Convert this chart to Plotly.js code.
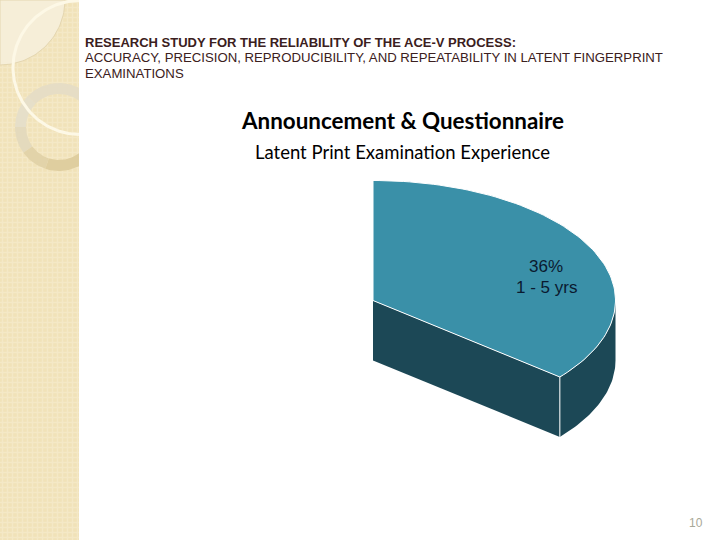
<!DOCTYPE html>
<html><head><meta charset="utf-8">
<script src="https://cdn.plot.ly/plotly-3.0.1.min.js"></script>
<style>html,body{margin:0;padding:0;background:#fff}#c{width:720px;height:540px}</style>
</head><body><div id="c"></div>
<script>
// Data
const sliceShares = [36];
const sliceNames = ["1 - 5 yrs"];
const headingLines = ["RESEARCH STUDY FOR THE RELIABILITY OF THE ACE-V PROCESS:",
  "ACCURACY, PRECISION, REPRODUCIBILITY, AND REPEATABILITY IN LATENT FINGERPRINT", "EXAMINATIONS"];
const chartTitle = "Announcement & Questionnaire";
const chartSubtitle = "Latent Print Examination Experience";
const pageNumber = "10";

// Projection of the tilted pie
const cx = 373, cy = 300.5, rx = 242.5, ry = 120, depth = 60;
const topColor = "#3a90a8", sideColor = "#1c4856";

function seq(a, b, n) { const o = []; for (let i = 0; i <= n; i++) o.push(a + (b - a) * i / n); return o; }
function px(t) { return cx + rx * Math.sin(t); }
function py(t) { return cy - ry * Math.cos(t); }
function poly(x, y, fill, line, extra) {
  return Object.assign({ x, y, type: "scatter", mode: "lines", fill: "toself", fillcolor: fill,
    line: line || { width: 0, color: fill }, hoverinfo: "skip", showlegend: false }, extra || {});
}
const stripRight = 79;
function arc(c0, c1, r, a, b, n) {
  const xs = [], ys = [];
  seq(a, b, n).forEach(t => { xs.push(Math.min(stripRight, c0 + r * Math.cos(t))); ys.push(c1 + r * Math.sin(t)); });
  return [xs, ys];
}

const traces = [];
// Decorated left band
traces.push(poly([0, stripRight, stripRight, 0, 0], [0, 0, 540, 540, 0], "#f2e3ba", null,
  { fillpattern: { shape: "+", fgcolor: "#f4e8c6", bgcolor: "#f1e2b8", size: 5, solidity: 0.5 } }));
// Pale quarter disc
const q = arc(0, 0, 65, 0, Math.PI / 2, 40);
traces.push(poly([0].concat(q[0], [0]), [0].concat(q[1], [0]), "#f6eed8",
  { width: 1, color: "#e4d6b0" }));
// Ring (bands give its soft vertical shading)
const ringC = [59, 127], ringOut = 44, ringIn = 33;
function ring(a, b, fill) {
  const o = arc(ringC[0], ringC[1], ringOut, a, b, 60), i = arc(ringC[0], ringC[1], ringIn, b, a, 60);
  return poly(o[0].concat(i[0], [o[0][0]]), o[1].concat(i[1], [o[1][0]]), fill);
}
traces.push(ring(Math.PI * 1.0, Math.PI * 1.25, "#e6dfc9"));
traces.push(ring(Math.PI * 1.25, Math.PI * 1.75, "#e6ddc5"));
traces.push(ring(Math.PI * 1.75, Math.PI * 2.0, "#e4d7b4"));
traces.push(ring(Math.PI * 0.8, Math.PI * 1.0, "#e4dabd"));
traces.push(ring(Math.PI * 0.6, Math.PI * 0.8, "#e2d3a9"));
traces.push(ring(Math.PI * 0.0, Math.PI * 0.6, "#dfce9f"));
// Cream sweep
const sw = arc(80, 67.5, 67, -Math.PI / 2, -Math.PI * 1.5, 90);
traces.push({ x: sw[0], y: sw[1], type: "scatter", mode: "lines", line: { color: "#fdf8e6", width: 3 },
  hoverinfo: "skip", showlegend: false });

// The pie slice: its sweep comes from the share
const sweep = sliceShares[0] / 100 * 2 * Math.PI;
const ts = seq(0, sweep, 90);
const edgeX = px(sweep), edgeY = py(sweep);
const sideT = seq(Math.PI / 2, sweep, 40);
traces.push(poly(
  sideT.map(px).concat(sideT.slice().reverse().map(px), [px(sideT[0])]),
  sideT.map(py).concat(sideT.slice().reverse().map(t => py(t) + depth), [py(sideT[0])]), sideColor));
traces.push(poly([cx, edgeX, edgeX, cx, cx], [cy, edgeY, edgeY + depth, cy + depth, cy], sideColor));
traces.push({ x: [edgeX, edgeX], y: [edgeY, edgeY + depth], type: "scatter", mode: "lines",
  line: { color: "#ffffff", width: 1 }, hoverinfo: "skip", showlegend: false });
traces.push(poly([cx].concat(ts.map(px), [cx]), [cy].concat(ts.map(py), [cy]), topColor,
  { color: "#ffffff", width: 1 }));

function note(text, x, y, size, family, color, anchor, bold) {
  return { text: bold ? "<b>" + text + "</b>" : text, x, y, xref: "x", yref: "y", showarrow: false,
    xanchor: anchor || "left", yanchor: "middle",
    font: { size, family, color }, align: "center" };
}
const arial = "Liberation Sans, Arial, sans-serif", cal = "Lato, Noto Sans, sans-serif";
const layout = {
  width: 720, height: 540, margin: { l: 0, r: 0, t: 0, b: 0, pad: 0 },
  paper_bgcolor: "#ffffff", plot_bgcolor: "#ffffff", showlegend: false,
  xaxis: { range: [0, 720], visible: false, fixedrange: true },
  yaxis: { range: [540, 0], visible: false, fixedrange: true },
  annotations: [
    note(headingLines[0], 83, 42, 13, arial, "#3b2020", "left", true),
    note(headingLines[1], 83, 57.5, 13.2, arial, "#3b2020"),
    note(headingLines[2], 83, 73.5, 13.2, arial, "#3b2020"),
    note(chartTitle, 402, 120, 22.4, cal, "#000000", "center", true),
    note(chartSubtitle, 402, 152, 18.5, cal, "#000000", "center"),
    note(sliceShares[0] + "%", 546, 266, 17, arial, "#0a1a30", "center"),
    note(sliceNames[0], 546, 287, 17, arial, "#0a1a30", "center"),
    note(pageNumber, 696, 523, 12, arial, "#a8a898", "center")
  ]
};
Plotly.newPlot("c", traces, layout, { displayModeBar: false, staticPlot: true });
</script></body></html>
